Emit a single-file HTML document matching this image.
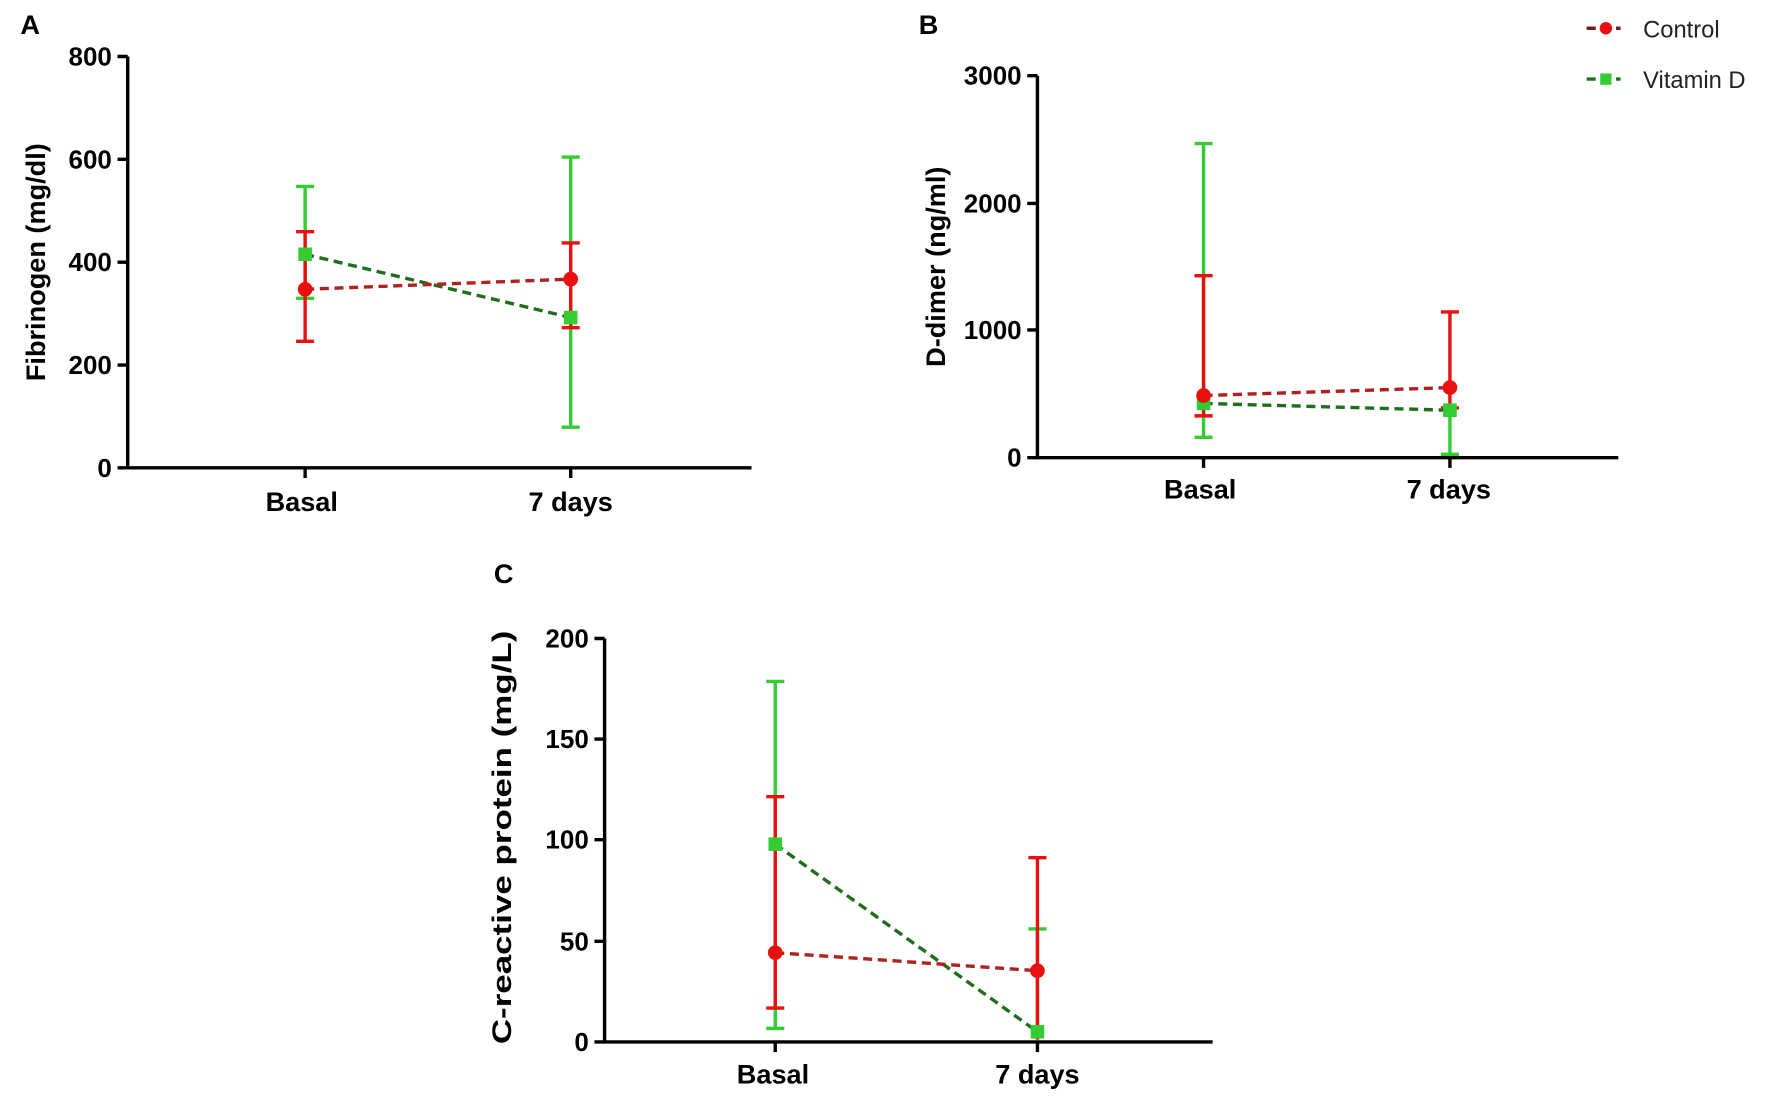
<!DOCTYPE html>
<html><head><style>html,body{margin:0;padding:0;background:#fff}svg{display:block}</style></head><body>
<svg width="1772" height="1112" viewBox="0 0 1568 984" preserveAspectRatio="none" xmlns="http://www.w3.org/2000/svg" font-family="Liberation Sans, Arial, sans-serif">
<rect width="1568" height="984" fill="#fff"/>
<g font-weight="bold" font-size="24" fill="#000">
<text x="18" y="30">A</text><text x="813" y="30">B</text><text x="437" y="516">C</text>
</g>
<!-- Panel A -->
<g stroke="#000" stroke-width="3" fill="none">
<path d="M113 50V414H665"/>
<path d="M104 50H113M104 141H113M104 232H113M104 323H113M104 414H113M270 414V423M505 414V423"/>
</g>
<g font-weight="bold" font-size="23" text-anchor="end">
<text x="99" y="58">800</text><text x="99" y="149">600</text><text x="99" y="240">400</text><text x="99" y="331">200</text><text x="99" y="422">0</text>
</g>
<g font-weight="bold" font-size="24" text-anchor="middle"><text x="267" y="452">Basal</text><text x="505" y="452">7 days</text></g>
<text transform="translate(40,232) rotate(-90)" font-weight="bold" font-size="24" text-anchor="middle">Fibrinogen (mg/dl)</text>
<g stroke-width="3" fill="none">
<path d="M270 264V165M262 165H278M262 264H278M505 378V139M497 139H513M497 378H513" stroke="#3c3"/>
<path d="M270 302V205M262 205H278M262 302H278M505 290V215M497 215H513M497 290H513" stroke="#e81010"/>
<path d="M270 225L505 281" stroke="#1e6e1e" stroke-dasharray="8,5"/>
<path d="M270 256L505 247" stroke="#b02020" stroke-dasharray="8,5"/>
</g>
<rect x="264" y="219" width="12" height="12" fill="#3c3"/><rect x="499" y="275" width="12" height="12" fill="#3c3"/>
<circle cx="270" cy="256" r="6.5" fill="#e81010"/><circle cx="505" cy="247" r="6.5" fill="#e81010"/>
<!-- Panel B -->
<g stroke="#000" stroke-width="3" fill="none">
<path d="M918 67V405H1432"/>
<path d="M909 67H918M909 180H918M909 292H918M909 405H918M1065 405V414M1283 405V414"/>
</g>
<g font-weight="bold" font-size="23" text-anchor="end">
<text x="904" y="75">3000</text><text x="904" y="188">2000</text><text x="904" y="300">1000</text><text x="904" y="413">0</text>
</g>
<g font-weight="bold" font-size="24" text-anchor="middle"><text x="1062" y="441">Basal</text><text x="1282" y="441">7 days</text></g>
<text transform="translate(836,236) rotate(-90)" font-weight="bold" font-size="24" text-anchor="middle">D-dimer (ng/ml)</text>
<g stroke-width="3" fill="none">
<path d="M1065 387V127M1057 127H1073M1057 387H1073M1283 402V363M1275 402H1291" stroke="#3c3"/>
<path d="M1065 368V244M1057 244H1073M1057 368H1073M1283 361V276M1275 276H1291M1275 361H1291" stroke="#e81010"/>
<path d="M1065 357L1283 363" stroke="#1e6e1e" stroke-dasharray="8,5"/>
<path d="M1065 350L1283 343" stroke="#b02020" stroke-dasharray="8,5"/>
</g>
<rect x="1059" y="351" width="12" height="12" fill="#3c3"/><rect x="1277" y="357" width="12" height="12" fill="#3c3"/>
<circle cx="1065" cy="350" r="6.5" fill="#e81010"/><circle cx="1283" cy="343" r="6.5" fill="#e81010"/>
<!-- Panel C -->
<g stroke="#000" stroke-width="3" fill="none">
<path d="M535 565V922H1073"/>
<path d="M526 565H535M526 654H535M526 743H535M526 833H535M526 922H535M686 922V931M918 922V931"/>
</g>
<g font-weight="bold" font-size="23" text-anchor="end">
<text x="521" y="573">200</text><text x="521" y="662">150</text><text x="521" y="751">100</text><text x="521" y="841">50</text><text x="521" y="930">0</text>
</g>
<g font-weight="bold" font-size="24" text-anchor="middle"><text x="684" y="959">Basal</text><text x="918" y="959">7 days</text></g>
<text transform="translate(452,741) rotate(-90)" font-weight="bold" font-size="24" text-anchor="middle" textLength="366" lengthAdjust="spacingAndGlyphs">C-reactive protein (mg/L)</text>
<g stroke-width="3" fill="none">
<path d="M686 910V603M678 603H694M678 910H694M918 920V822M910 822H926" stroke="#3c3"/>
<path d="M686 892V705M678 705H694M678 892H694M918 920V759M910 759H926" stroke="#e81010"/>
<path d="M686 747L918 913" stroke="#1e6e1e" stroke-dasharray="8,5"/>
<path d="M686 843L918 859" stroke="#b02020" stroke-dasharray="8,5"/>
</g>
<rect x="680" y="741" width="12" height="12" fill="#3c3"/><rect x="912" y="907" width="12" height="12" fill="#3c3"/>
<circle cx="686" cy="843" r="6.5" fill="#e81010"/><circle cx="918" cy="859" r="6.5" fill="#e81010"/>
<!-- Legend -->
<path d="M1404 25H1412M1430 25H1434" stroke="#702020" stroke-width="3"/>
<circle cx="1421" cy="25" r="5.5" fill="#e81010"/>
<path d="M1404 70H1412M1430 70H1434" stroke="#1e6e1e" stroke-width="3"/>
<rect x="1416" y="65" width="10" height="10" fill="#3c3"/>
<g font-size="21" fill="#222"><text x="1454" y="33">Control</text><text x="1454" y="78">Vitamin D</text></g>
</svg>
</body></html>
